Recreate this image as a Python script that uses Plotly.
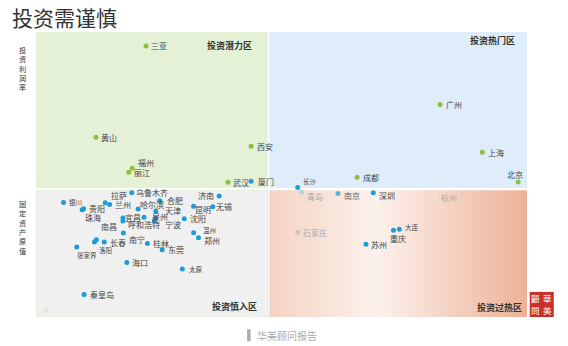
import plotly.graph_objects as go

# ---------------- data ----------------
green_names = ["三亚", "黄山", "西安", "福州", "丽江", "武汉", "广州", "上海", "成都", "北京", ""]
green_x = [22.4, 12.2, 43.8, 19.6, 18.9, 39.1, 82.3, 90.9, 65.4, 98.2, 2.0]
green_y = [95.1, 63.1, 59.9, 52.2, 50.8, 47.3, 74.6, 57.8, 49.0, 47.4, 2.4]

blue_names = ["厦门", "长沙", "南京", "深圳", "大连", "重庆", "苏州",
              "银川", "贵阳", "珠海", "拉萨", "兰州", "乌鲁木齐", "哈尔滨", "合肥",
              "天津", "泉州", "宁波", "宜昌", "呼和浩特", "南昌", "南宁", "长春",
              "洛阳", "", "张家界", "桂林", "东莞", "济南", "昆明", "无锡", "沈阳",
              "温州", "郑州", "海口", "太原", "秦皇岛"]
blue_x = [43.8, 53.3, 61.5, 68.7, 74.0, 72.8, 67.2,
          5.6, 9.7, 9.4, 14.1, 15.0, 19.5, 20.8, 25.2,
          24.4, 24.3, 24.1, 22.0, 17.7, 17.7, 17.8, 13.9,
          11.9, 12.3, 8.3, 22.7, 25.7, 37.3, 32.1, 36.0, 30.2,
          32.1, 33.1, 18.5, 29.8, 9.8]
blue_y = [47.6, 45.4, 43.3, 43.6, 30.8, 30.4, 25.5,
          40.2, 38.0, 37.6, 40.1, 39.5, 43.6, 37.9, 40.8,
          37.2, 34.5, 33.8, 35.0, 34.7, 33.7, 29.5, 26.3,
          26.3, 27.1, 24.6, 25.8, 23.6, 42.5, 38.9, 38.7, 34.5,
          29.6, 27.8, 19.1, 16.8, 7.9]

pale_names = ["青岛", "石家庄", "杭州"]
pale_x = [54.1, 53.3, 81.3]
pale_y = [43.9, 29.7, 42.1]

quadrant_names = ["投资潜力区", "投资热门区", "投资慎入区", "投资过热区"]
x_split = 47.35
y_split = 44.9

# ---------------- styles ----------------
FONT = "Noto Sans CJK SC"
GREEN = "#8dc03c"
BLUE = "#1e9cd7"

small = {"银川", "长沙", "大连", "洛阳", "张家界", "温州", "太原"}
# label offsets in pixels: (dx, dy_up, anchor)
offsets = {
    "福州": (6, 6, "left"), "北京": (-11, 7, "left"), "厦门": (7, 0, "left"),
    "长沙": (6, 7, "left"), "青岛": (6, -4.5, "left"), "南京": (7, -1.5, "left"),
    "深圳": (6, -2.5, "left"), "大连": (6, 2, "left"), "重庆": (-2.5, -8.5, "left"),
    "珠海": (3.7, -8, "left"), "拉萨": (6, 7, "left"), "乌鲁木齐": (4.5, 0, "left"),
    "哈尔滨": (2.5, 4, "left"), "合肥": (8, 0, "left"), "天津": (10, 0, "left"),
    "泉州": (-2.6, 2.3, "left"), "宁波": (10.7, -3.8, "left"), "宜昌": (-4, 0, "right"),
    "呼和浩特": (6, -6.6, "left"), "南昌": (-6, -6, "right"), "南宁": (6.5, -6.5, "left"),
    "洛阳": (5, -8, "left"), "张家界": (0.3, -8, "left"), "济南": (-6, 0, "right"),
    "昆明": (2, -3, "left"), "无锡": (4, 0, "left"), "温州": (10, 3, "left"),
    "郑州": (6, -2.7, "left"), "太原": (7, 0, "left"),
}

fig = go.Figure()

gap_x = 0.15
gap_y = 0.4
# quadrant backgrounds
fig.add_shape(type="rect", x0=0, x1=x_split - gap_x, y0=y_split + gap_y, y1=100,
              fillcolor="#e5f1d7", line_width=0, layer="below")
fig.add_shape(type="rect", x0=x_split + gap_x, x1=100, y0=y_split + gap_y, y1=100,
              fillcolor="#deedf9", line_width=0, layer="below")
fig.add_shape(type="rect", x0=0, x1=x_split - gap_x, y0=0, y1=y_split - gap_y,
              fillcolor="#f0f0f0", line=dict(color="#e2eed6", width=1), layer="below")

# gradient panel (overheated zone)
fig.add_trace(go.Scatter(
    x=[x_split + gap_x, 100, 100, x_split + gap_x, x_split + gap_x],
    y=[0, 0, y_split - gap_y, y_split - gap_y, 0],
    mode="lines", line=dict(width=0), fill="toself",
    fillgradient=dict(type="horizontal",
                      colorscale=[[0, "#f5d3c4"], [0.42, "#fcf1ec"], [1, "#ecb297"]]),
    hoverinfo="skip", showlegend=False))

fig.add_trace(go.Scatter(
    x=pale_x, y=pale_y, mode="markers",
    marker=dict(size=5, color=["#b3d2de", "#c6c8ca", "#ebe5ca"]),
    showlegend=False, cliponaxis=False))
fig.add_trace(go.Scatter(
    x=green_x, y=green_y, mode="markers",
    marker=dict(size=5, color=[GREEN] * 10 + ["#dbe9cf"]),
    showlegend=False, cliponaxis=False))
fig.add_trace(go.Scatter(
    x=blue_x, y=blue_y, mode="markers",
    marker=dict(size=5, color=[BLUE if n != "南京" else "#5db3da" for n in blue_names]),
    showlegend=False, cliponaxis=False))


def add_labels(names, xs, ys, color):
    for n, x, y in zip(names, xs, ys):
        if not n:
            continue
        dx, dy, anchor = offsets.get(n, (6, 0, "left"))
        shift = dx - 1.5 if anchor == "left" else dx + 1.5
        c = color
        if n == "南京":
            c = "#666666"
        fig.add_annotation(x=x, y=y, xref="x", yref="y", text=n, showarrow=False,
                           xanchor=anchor, yanchor="middle", xshift=shift, yshift=dy,
                           borderpad=0,
                           font=dict(size=6.5 if n in small else 8, color=c, family=FONT))


add_labels(green_names, green_x, green_y, "#444444")
add_labels(blue_names, blue_x, blue_y, "#444444")
add_labels(pale_names, pale_x, pale_y, "#aaaaaa")

# quadrant labels
qpos = [(44.3, 95.1), (97.9, 97.1), (45.5, 3.75), (99.3, 3.5)]
for name, (qx, qy) in zip(quadrant_names, qpos):
    fig.add_annotation(x=qx, y=qy, xref="x", yref="y", text="<b>" + name + "</b>",
                       showarrow=False, xanchor="right", yanchor="middle",
                       font=dict(size=9, color="#333333", family=FONT))

# title
fig.add_annotation(x=-0.053, y=1.052, xref="paper", yref="paper", text="投资需谨慎",
                   showarrow=False, xanchor="left", yanchor="middle",
                   font=dict(size=21, color="#333333", family=FONT))

# axis labels (vertical)
fig.add_annotation(x=-0.0285, y=0.871, xref="paper", yref="paper",
                   text="<br>".join("投资利润率"), showarrow=False,
                   xanchor="center", yanchor="middle",
                   font=dict(size=7.2, color="#333333", family=FONT))
fig.add_annotation(x=-0.0285, y=0.313, xref="paper", yref="paper",
                   text="<br>".join("固定资产原值"), showarrow=False,
                   xanchor="center", yanchor="middle",
                   font=dict(size=7.2, color="#333333", family=FONT))

# seal
fig.add_shape(type="rect", xref="paper", yref="paper", x0=1.0055, x1=1.0545,
              y0=0.0, y1=0.088, fillcolor="#c9302a", line_width=0)
for ch, sx, sy in [("顧", 1.0175, 0.065), ("華", 1.042, 0.065),
                   ("問", 1.0175, 0.023), ("美", 1.042, 0.023)]:
    fig.add_annotation(x=sx, y=sy, xref="paper", yref="paper", text=ch, showarrow=False,
                       xanchor="center", yanchor="middle", borderpad=0,
                       font=dict(size=8.5, color="#ffffff", family="Noto Sans CJK TC"))

# footer
fig.add_shape(type="rect", xref="paper", yref="paper", x0=0.43, x1=0.437,
              y0=-0.043, y1=-0.085, fillcolor="#aaaaaa", line_width=0)
fig.add_annotation(x=0.446, y=-0.066, xref="paper", yref="paper", text="华美顾问报告",
                   showarrow=False, xanchor="left", yanchor="middle",
                   font=dict(size=10, color="#aaaaaa", family=FONT))

fig.update_xaxes(range=[0, 100], visible=False, fixedrange=True)
fig.update_yaxes(range=[0, 100], visible=False, fixedrange=True)
fig.update_layout(width=568, height=346,
                  margin=dict(l=36, r=41.3, t=31.7, b=29.3),
                  plot_bgcolor="white", paper_bgcolor="white",
                  font=dict(family=FONT))

fig.write_html("out.html")
